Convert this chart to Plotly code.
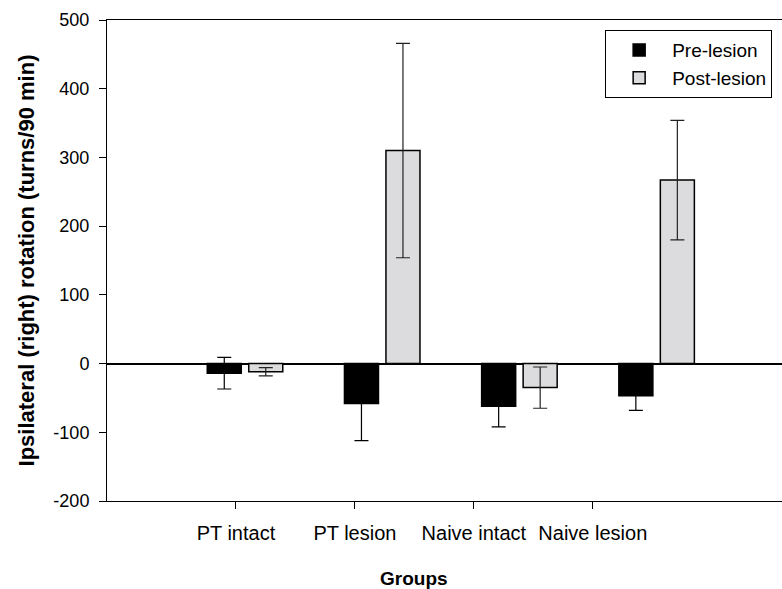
import plotly.graph_objects as go

groups = ["PT intact", "PT lesion", "Naive intact", "Naive lesion"]
pre_lesion = [-14, -58, -62, -47]
pre_err = [23, 54, 30, 21]
post_lesion = [-12, 310, -35, 267]
post_err = [6, 156, 30, 87]
y_ticks = [-200, -100, 0, 100, 200, 300, 400, 500]

FONT = "Liberation Sans, Arial, sans-serif"
TICK_START = -0.066
TICK_STEP = 0.867
xpos = list(range(len(groups)))
tickpos = [TICK_START + i * TICK_STEP for i in xpos]

fig = go.Figure()
fig.add_trace(go.Bar(
    x=xpos, y=pre_lesion, name="Pre-lesion",
    marker=dict(color="black", line=dict(color="black", width=1.5)),
    error_y=dict(type="data", array=pre_err, color="black", thickness=1.2, width=7),
))
fig.add_trace(go.Bar(
    x=xpos, y=post_lesion, name="Post-lesion",
    marker=dict(color="#dcdcde", line=dict(color="black", width=1.5)),
    error_y=dict(type="data", array=post_err, color="#222", thickness=1.2, width=7),
))

fig.update_layout(
    width=782, height=589,
    margin=dict(l=107, r=0, t=20, b=88),
    paper_bgcolor="white", plot_bgcolor="white",
    barmode="group", bargap=0.395, bargroupgap=0.18,
    font=dict(family=FONT, color="black", size=18),
    showlegend=True,
    legend=dict(
        x=0.738, y=0.979, xanchor="left", yanchor="top",
        bordercolor="black", borderwidth=1, bgcolor="white",
        font=dict(size=19, family=FONT), traceorder="normal",
        itemwidth=56,
    ),
    xaxis=dict(
        range=[-1.006, 3.914],
        tickvals=tickpos, ticktext=groups,
        ticks="outside", ticklen=7, tickcolor="black",
        showline=True, linecolor="black", linewidth=1, mirror=True,
        showgrid=False, zeroline=False,
        tickfont=dict(size=20, family=FONT),
        ticklabelstandoff=7,
    ),
    yaxis=dict(
        range=[-200, 500], tickvals=y_ticks,
        ticktext=[str(v) for v in y_ticks],
        ticks="outside", ticklen=7, tickcolor="black",
        showline=True, linecolor="black", linewidth=1,
        showgrid=False,
        zeroline=True, zerolinecolor="black", zerolinewidth=2,
        tickfont=dict(size=18, family=FONT),
        ticklabelstandoff=6,
        title=dict(text="<b>Ipsilateral (right) rotation (turns/90 min)</b>",
                   font=dict(size=22, family=FONT), standoff=12),
    ),
    annotations=[dict(
        x=(tickpos[0] + tickpos[-1]) / 2, xref="x",
        y=-(578 - 501) / 481, yref="paper", yanchor="middle",
        text="<b>Groups</b>", showarrow=False,
        font=dict(size=19, family=FONT),
    )],
)

fig.write_html("out.html")
